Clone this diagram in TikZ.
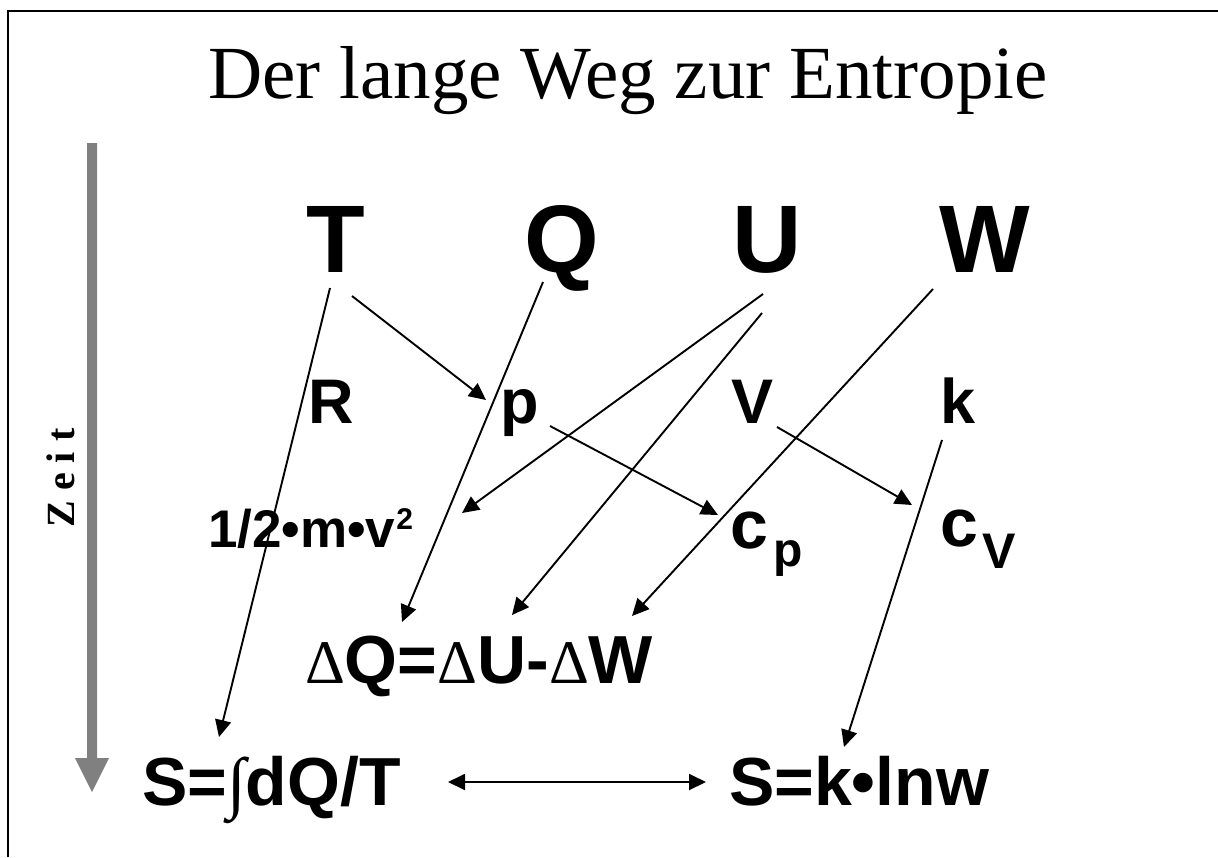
\documentclass[tikz,border=0pt]{standalone}
\usepackage{fontspec}
\setmainfont{Liberation Sans}
\newfontfamily\serifrm{Liberation Serif}
\usetikzlibrary{arrows.meta,calc}
\newcommand\mydelta{{\serifrm\mdseries\fontsize{62}{62}\selectfont Δ}}
\newcommand\myint{{\serifrm\mdseries ∫}}
\begin{document}
\begin{tikzpicture}[x=1pt,y=-1pt,
  lbl/.style={inner sep=0pt, outer sep=0pt},
  big/.style={lbl, font=\fontsize{96}{96}\selectfont\bfseries, anchor=base},
  mid/.style={lbl, font=\fontsize{63}{63}\selectfont\bfseries, anchor=base},
  eq/.style={lbl, font=\fontsize{68}{68}\selectfont\bfseries, anchor=base west},
  arr/.style={line width=1.9pt, -{Triangle[length=17pt,width=16pt]}},
  dblarr/.style={line width=1.9pt, {Triangle[length=17pt,width=16pt]}-{Triangle[length=17pt,width=16pt]}},
]
\useasboundingbox (0,0) rectangle (1218,857);
% frame
\draw[line width=2pt] (8,857) -- (8,11) -- (1218,11);
% title
\node[lbl, anchor=base, font=\serifrm\fontsize{75}{75}\selectfont] (title) at (628,98) {Der lange Weg zur Entropie};
% time arrow
\fill[gray] (87,143) -- (97,143) -- (97,758) -- (109,758) -- (92,792) -- (75,758) -- (87,758) -- cycle;
\node[lbl, anchor=base, rotate=90, font=\serifrm\bfseries\fontsize{40}{40}\selectfont] (zeit) at (74,478) {Z e i t};
% big letters
\node[big] (T) at (336,272) {T};
\node[big] (Q) at (562,272) {Q};
\node[big] (U) at (767,272) {U};
\node[big] (W) at (985,272) {W};
% middle letters
\node[mid] (R) at (331,423) {R};
\node[mid] (p) at (520,423) {p};
\node[mid] (V) at (753,423) {V};
\node[mid] (k) at (958,423) {k};
% third row
\node[lbl, anchor=base west, font=\fontsize{53}{53}\selectfont\bfseries] (ekin) at (208,547) {1/2•m•v\hspace{1pt}{\fontsize{30}{30}\selectfont\raisebox{18pt}{2}}};
\node[lbl, anchor=base west, font=\bfseries] (cp) at (730,548) {\fontsize{68}{68}\selectfont c\hspace{6pt}\fontsize{48}{48}\selectfont\raisebox{-18pt}{p}};
\node[lbl, anchor=base west, font=\bfseries] (cv) at (940,546) {\fontsize{68}{68}\selectfont c\hspace{5pt}\fontsize{50}{50}\selectfont\raisebox{-22pt}{V}};
% equations
\node[eq] (dQ) at (305,683) {\mydelta Q=\mydelta U-\mydelta W};
\node[eq] (S1) at (142,805) {S=\myint dQ/T};
\node[eq] (S2) at (729,805) {S=k•lnw};
% connectors
\draw[arr] ($(T.base)+(-6,16)$) -- ($(S1.base west)+(77,-68)$);
\draw[arr] ($(T.base)+(16,24)$) -- ($(p.base)+(-34,-23)$);
\draw[arr] ($(Q.base)+(-19,10)$) -- ($(dQ.base west)+(97,-61)$);
\draw[arr] ($(U.base)+(-4,22)$) -- ($(ekin.base west)+(254,-34)$);
\draw[arr] ($(U.base)+(-5,41)$) -- ($(dQ.base west)+(207,-68)$);
\draw[arr] ($(W.base)+(-52,17)$) -- ($(dQ.base west)+(327,-67)$);
\draw[arr] ($(p.base)+(30,3)$) -- ($(cp.base west)+(-12,-33)$);
\draw[arr] ($(V.base)+(24,4)$) -- ($(cv.base west)+(-28,-41)$);
\draw[arr] ($(k.base)+(-16,17)$) -- ($(S2.base west)+(115,-58)$);
\draw[dblarr] ($(S1.base west)+(306,-23)$) -- ($(S2.base west)+(-23,-23)$);
\end{tikzpicture}
\end{document}
